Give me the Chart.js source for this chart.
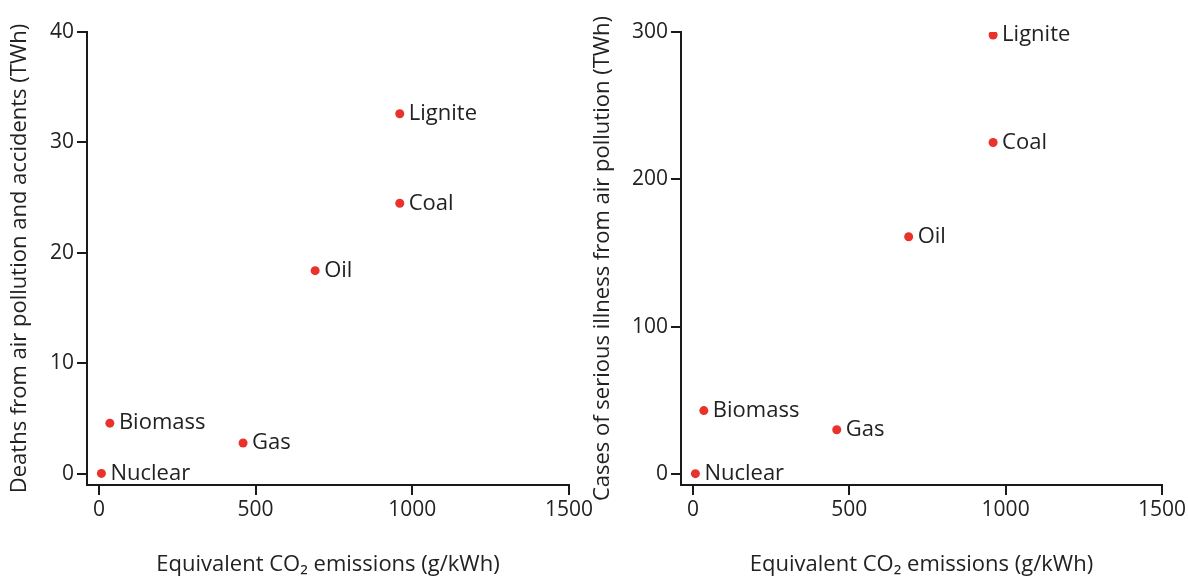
<!DOCTYPE html>
<html>
<head>
<meta charset="utf-8">
<script src="https://cdn.jsdelivr.net/npm/chart.js@4.4.1/dist/chart.umd.min.js"></script>
<style>
  body { margin: 0; background: #fff; }
  #wrap { position: relative; width: 1188px; height: 580px; }
  #leftBox { position: absolute; left: 0; top: 0; }
  #rightBox { position: absolute; left: 590px; top: 0; }
</style>
</head>
<body>
<div id="wrap">
  <div id="leftBox"><canvas id="deathChart" width="600" height="580"></canvas></div>
  <div id="rightBox"><canvas id="illChart" width="598" height="580"></canvas></div>
</div>
<script>
// data
var sources = ["Nuclear", "Biomass", "Gas", "Oil", "Coal", "Lignite"];
var co2 = [8, 35, 460, 690, 960, 960];
var deaths = [0.05, 4.6, 2.8, 18.4, 24.5, 32.6];
var illness = [0.2, 43, 30, 161, 225, 298];
var xTicks = [0, 500, 1000, 1500];
var deathTicks = [0, 10, 20, 30, 40];
var illTicks = [0, 100, 200, 300];

var ink = "#222";
var axisInk = "#1a1a1a";
var dotRed = "#e8322b";
var fontName = "'Open Sans', sans-serif";

function toPoints(xs, ys) {
    var pts = [];
    for (var i = 0; i < xs.length; i++) {
        pts.push({ x: xs[i], y: ys[i] });
    }
    return pts;
}

// writes the source name to the right of each dot
var pointNames = {
    id: "pointNames",
    afterDatasetsDraw: function (chart) {
        var ctx = chart.ctx;
        var meta = chart.getDatasetMeta(0);
        ctx.save();
        ctx.fillStyle = ink;
        ctx.font = "22px " + fontName;
        ctx.textBaseline = "middle";
        meta.data.forEach(function (el, i) {
            ctx.fillText(sources[i], el.x + 9, el.y);
        });
        ctx.restore();
    }
};

function makeChart(id, ys, yTicks, yMin, yMax, yTitle, yWidth, padRight, titlePad) {
    var ctx = document.getElementById(id).getContext("2d");
    return new Chart(ctx, {
        type: "scatter",
        data: {
            datasets: [{
                data: toPoints(co2, ys),
                backgroundColor: dotRed,
                borderWidth: 0,
                pointRadius: 4.5
            }]
        },
        options: {
            responsive: false,
            animation: false,
            layout: { padding: { left: 0, top: 32, right: padRight, bottom: 0 } },
            plugins: { legend: { display: false }, tooltip: { enabled: false } },
            scales: {
                x: {
                    type: "linear",
                    min: -38,
                    max: 1500,
                    afterBuildTicks: function (s) {
                        s.ticks = xTicks.map(function (v) { return { value: v }; });
                    },
                    afterFit: function (s) { s.height = 95; },
                    grid: { drawOnChartArea: false, drawTicks: true, tickLength: 10, color: axisInk, lineWidth: 2 },
                    border: { display: true, color: axisInk, width: 2 },
                    ticks: {
                        color: ink, font: { family: fontName, size: 21 }, padding: 2, maxRotation: 0,
                        callback: function (v) { return String(v); }
                    },
                    title: {
                        display: true,
                        text: "Equivalent CO\u2082 emissions (g/kWh)",
                        color: ink,
                        font: { family: fontName, size: 22 },
                        padding: { top: 0, bottom: 2 }
                    }
                },
                y: {
                    type: "linear",
                    min: yMin,
                    max: yMax,
                    afterBuildTicks: function (s) {
                        s.ticks = yTicks.map(function (v) { return { value: v }; });
                    },
                    afterFit: function (s) { s.width = yWidth; },
                    grid: { drawOnChartArea: false, drawTicks: true, tickLength: 10, color: axisInk, lineWidth: 2 },
                    border: { display: true, color: axisInk, width: 2 },
                    ticks: {
                        color: ink, font: { family: fontName, size: 21 }, padding: 3,
                        callback: function (v) { return String(v); }
                    },
                    title: {
                        display: true,
                        text: yTitle,
                        color: ink,
                        font: { family: fontName, size: 22 },
                        padding: { top: titlePad, bottom: 0 }
                    }
                }
            }
        },
        plugins: [pointNames]
    });
}

makeChart("deathChart", deaths, deathTicks, -1, 40,
    "Deaths from air pollution and accidents (TWh)", 87, 31, 7);
makeChart("illChart", illness, illTicks, -7.5, 300,
    "Cases of serious illness from air pollution (TWh)", 91, 25, 0);
</script>
</body>
</html>
